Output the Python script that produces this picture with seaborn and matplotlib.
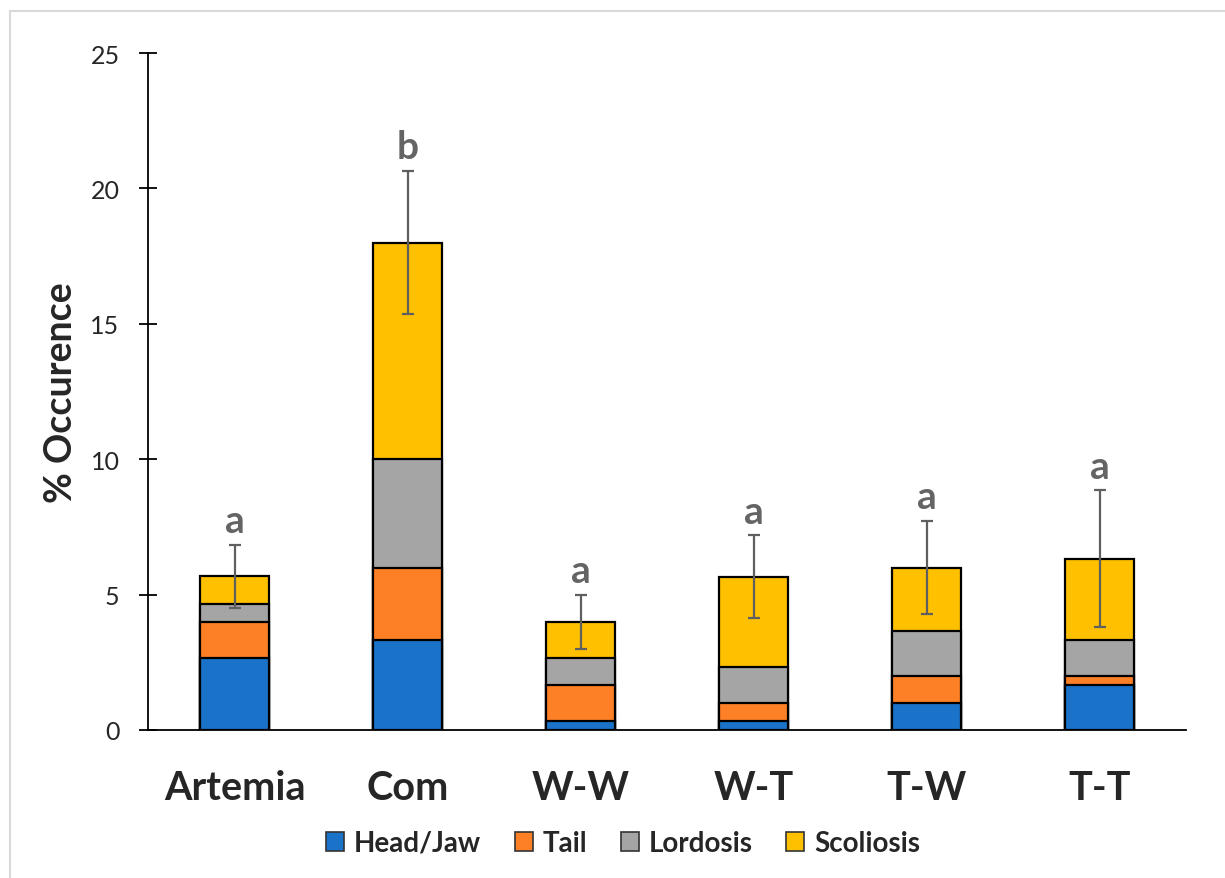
import matplotlib
matplotlib.use("Agg")
import matplotlib.pyplot as plt
import matplotlib.patches as mpatches
import numpy as np
import pandas as pd
import seaborn as sns

# Deformity occurrence per diet group (%)
groups = ["Artemia", "Com", "W-W", "W-T", "T-W", "T-T"]
head_jaw = [2.67, 3.33, 0.33, 0.33, 1.00, 1.67]
tail = [1.33, 2.67, 1.33, 0.67, 1.00, 0.33]
lordosis = [0.67, 4.00, 1.00, 1.33, 1.67, 1.33]
scoliosis = [1.00, 8.00, 1.33, 3.33, 2.33, 3.00]
sem = [1.17, 2.65, 1.00, 1.53, 1.73, 2.52]
letters = ["a", "b", "a", "a", "a", "a"]

series_names = ["Head/Jaw", "Tail", "Lordosis", "Scoliosis"]
series_colors = ["#1A73C8", "#FD7F26", "#A5A5A5", "#FFC000"]

sns.set_style("white")
plt.rcParams["font.family"] = ["Lato", "DejaVu Sans"]

df = pd.DataFrame({
    "group": groups,
    "Head/Jaw": head_jaw,
    "Tail": tail,
    "Lordosis": lordosis,
    "Scoliosis": scoliosis,
})
# cumulative heights for stacking
cum = df[series_names].cumsum(axis=1)
cum["group"] = groups
total = cum["Scoliosis"].to_numpy()

fig = plt.figure(figsize=(12.25, 8.79), dpi=100)
ax = fig.add_axes([148 / 1225, 1 - 731 / 879, 1038 / 1225, 677 / 879])

# draw from the tallest stack downwards so each layer covers the one above
for name, color in reversed(list(zip(series_names, series_colors))):
    sns.barplot(data=cum, x="group", y=name, color=color,
                saturation=1, width=0.4, edgecolor="black", linewidth=1.6,
                ax=ax, zorder=2)

xpos = np.arange(len(groups))
ax.errorbar(xpos, total, yerr=sem, fmt="none", ecolor="#5F5F5F",
            elinewidth=1.6, capsize=4.3, capthick=1.6, zorder=5)

for i, (lt, t, e) in enumerate(zip(letters, total, sem)):
    ax.annotate(lt, xy=(i, t + e), xytext=(0, 9), textcoords="offset points",
                ha="center", va="baseline", fontsize=28, fontweight="bold",
                color="#646464", zorder=6)

ax.set_xlim(-0.5, len(groups) - 0.5)
ax.set_ylim(0, 25)
ax.set_yticks([0, 5, 10, 15, 20, 25])
ax.tick_params(axis="y", direction="inout", length=13, width=1.3,
               labelsize=18, pad=14, left=True, color="black")
ax.tick_params(axis="x", length=0, labelsize=28.5, pad=28)
for lab in ax.get_xticklabels():
    lab.set_fontweight("bold")

ax.set_xlabel("")
ax.set_ylabel("% Occurence", fontsize=27, fontweight="bold")
ax.yaxis.set_label_coords(-0.067, 0.5)

for side in ["top", "right"]:
    ax.spines[side].set_visible(False)
for side in ["left", "bottom"]:
    ax.spines[side].set_color("black")
    ax.spines[side].set_linewidth(1.3)
    ax.spines[side].set_zorder(3)

handles = [mpatches.Patch(facecolor=c, edgecolor="#333333", linewidth=1.2, label=n)
           for n, c in zip(series_names, series_colors)]
fig.legend(handles=handles, loc="center", bbox_to_anchor=(623 / 1225, 1 - 844 / 879),
           ncol=4, frameon=False, prop={"size": 20, "weight": "bold"},
           handlelength=0.65, handleheight=0.65, handletextpad=0.36,
           columnspacing=1.2)

# light chart-area border
fig.add_artist(mpatches.Rectangle((10 / 1225, -0.1), 1.2, (1 - 12 / 879) + 0.1,
                                  transform=fig.transFigure, fill=False,
                                  edgecolor="#D9D9D9", linewidth=1.5))

fig.savefig("out.png", dpi=100)
